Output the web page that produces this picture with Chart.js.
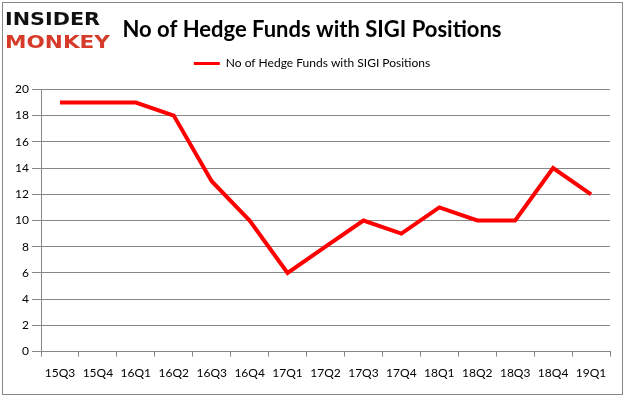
<!DOCTYPE html>
<html>
<head>
<meta charset="utf-8">
<script src="https://cdn.jsdelivr.net/npm/chart.js@4.4.0/dist/chart.umd.min.js"></script>
<style>
html,body{margin:0;padding:0;background:#fff;}
#wrap{width:626px;height:397px;position:relative;}
</style>
</head>
<body>
<div id="wrap"><canvas id="c" width="626" height="397"></canvas></div>
<script>
const categories = ["15Q3","15Q4","16Q1","16Q2","16Q3","16Q4","17Q1","17Q2","17Q3","17Q4","18Q1","18Q2","18Q3","18Q4","19Q1"];
const hedgeFunds = [19,19,19,18,13,10,6,8,10,9,11,10,10,14,12];
const yTicks = [0,2,4,6,8,10,12,14,16,18,20];
const seriesName = "No of Hedge Funds with SIGI Positions";
const titleText = "No of Hedge Funds with SIGI Positions";

const FONT = "Lato, 'Open Sans', sans-serif";
const GRID = "#878787";

const legendGap = {
  id: 'legendGap',
  beforeUpdate(chart) {
    const lg = chart.legend;
    if (lg && !lg._gapPatched) {
      const orig = lg.fit.bind(lg);
      lg.fit = function () { orig(); this.height += 10; };
      lg._gapPatched = true;
    }
  }
};

const decor = {
  id: 'decor',
  afterDraw(chart) {
    const ctx = chart.ctx;
    ctx.save();
    ctx.strokeStyle = GRID;
    ctx.lineWidth = 1;
    ctx.strokeRect(2.5, 2.5, 620, 392);
    // logo
    ctx.textBaseline = 'alphabetic';
    ctx.textAlign = 'left';
    ctx.font = "900 17px 'DejaVu Sans', sans-serif";
    let w = ctx.measureText("INSIDER").width;
    ctx.save();
    ctx.translate(5, 25);
    ctx.scale(95 / w, 1);
    ctx.fillStyle = "#111";
    ctx.fillText("INSIDER", 0, 0);
    ctx.restore();
    w = ctx.measureText("MONKEY").width;
    ctx.save();
    ctx.translate(5, 48);
    ctx.scale(105 / w, 1);
    ctx.fillStyle = "#d63b2a";
    ctx.fillText("MONKEY", 0, 0);
    ctx.restore();
    ctx.restore();
  }
};

new Chart(document.getElementById('c'), {
  type: 'line',
  data: {
    labels: categories,
    datasets: [{
      label: seriesName,
      data: hedgeFunds,
      borderColor: '#ff0000',
      backgroundColor: '#ff0000',
      borderWidth: 4,
      pointRadius: 0,
      tension: 0,
      fill: false
    }]
  },
  options: {
    responsive: false,
    animation: false,
    layout: { padding: { left: 14, right: 16, top: 0, bottom: 8 } },
    plugins: {
      title: {
        display: true,
        text: titleText,
        color: '#000',
        font: { family: FONT, size: 22, weight: 'bold' },
        padding: { top: 17, bottom: 4 }
      },
      legend: {
        display: true,
        labels: {
          color: '#000',
          font: { family: FONT, size: 12 },
          boxWidth: 26,
          boxHeight: 0,
          padding: 10,
          generateLabels(chart) {
            return [{
              text: seriesName,
              strokeStyle: '#ff0000',
              fillStyle: '#ff0000',
              lineWidth: 3,
              datasetIndex: 0
            }];
          }
        }
      },
      tooltip: { enabled: false }
    },
    scales: {
      x: {
        offset: true,
        grid: { display: true, drawOnChartArea: false, drawTicks: true, tickLength: 5, color: GRID, offset: true },
        border: { display: true, color: GRID },
        ticks: { color: '#000', font: { family: FONT, size: 12 }, padding: 9, maxRotation: 0, autoSkip: false }
      },
      y: {
        min: 0, max: 20,
        afterBuildTicks(scale) { scale.ticks = yTicks.map(v => ({ value: v })); },
        afterFit(scale) { scale.width = 27; },
        grid: { color: GRID, tickLength: 9, drawTicks: true },
        border: { display: true, color: GRID },
        ticks: { color: '#000', font: { family: FONT, size: 12 }, padding: 3 }
      }
    }
  },
  plugins: [legendGap, decor]
});
</script>
</body>
</html>
